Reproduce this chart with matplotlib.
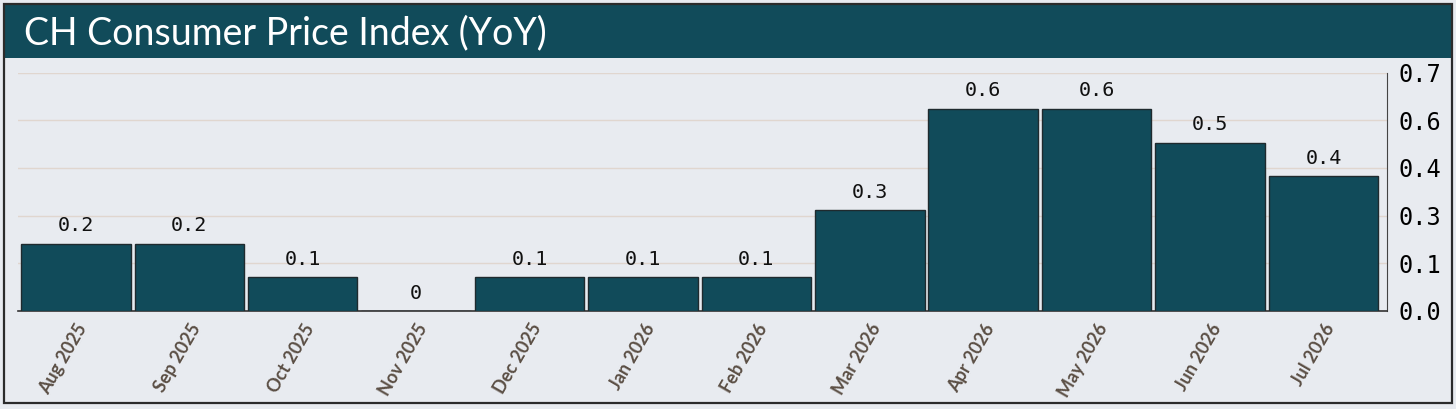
import matplotlib.pyplot as plt
import numpy as np
from matplotlib.patches import Rectangle

# data
months = ['Aug 2025', 'Sep 2025', 'Oct 2025', 'Nov 2025', 'Dec 2025', 'Jan 2026',
          'Feb 2026', 'Mar 2026', 'Apr 2026', 'May 2026', 'Jun 2026', 'Jul 2026']
cpi_yoy = [0.2, 0.2, 0.1, 0.0, 0.1, 0.1, 0.1, 0.3, 0.6, 0.6, 0.5, 0.4]
title = 'CH Consumer Price Index (YoY)'

bg = '#e8ebf0'
teal = '#114b5a'

fig = plt.figure(figsize=(14.56, 4.09), dpi=100)
fig.patch.set_facecolor(bg)

# header band + outer frame
fig.add_artist(Rectangle((0.003, 1 - 58 / 409), 0.994, 54 / 409, transform=fig.transFigure,
                         facecolor=teal, edgecolor='none', zorder=0))
fig.add_artist(Rectangle((0.003, 0.015), 0.994, 0.975, transform=fig.transFigure,
                         facecolor='none', edgecolor='#2b2b2b', linewidth=1.6, zorder=5))
fig.text(24 / 1456, 1 - 33 / 409, title, color='white', fontsize=27,
         family=['Lato', 'DejaVu Sans'], va='center', ha='left')

ax = fig.add_axes([18 / 1456, 1 - 311 / 409, (1387 - 18) / 1456, (311 - 72.5) / 409])
ax.set_facecolor(bg)

x = np.arange(len(months))
ax.bar(x, cpi_yoy, width=0.965, color=teal, edgecolor='#1f2a2e', linewidth=1, zorder=3)

for xi, v in zip(x, cpi_yoy):
    ax.text(xi, v + 0.025, f'{round(v, 1):g}', ha='center', va='bottom',
            family='DejaVu Sans Mono', fontsize=14.5, color='#111111', zorder=4)

ymax = max(cpi_yoy) * 1.18
ax.set_ylim(0, ymax)
ax.set_xlim(-0.51, len(months) - 1 + 0.56)
ticks = np.linspace(0, ymax, 6)
ax.set_yticks(ticks)
ax.set_yticklabels([f'{t:.1f}' for t in ticks], family='DejaVu Sans Mono', fontsize=17)
ax.yaxis.tick_right()
ax.tick_params(axis='y', length=0, pad=8)
ax.grid(axis='y', color='#e0d6cf', linewidth=1, zorder=0)

ax.set_xticks(x)
ax.set_xticklabels(months, rotation=60, ha='right', rotation_mode='anchor',
                   family=['Lato', 'DejaVu Sans'], fontweight='bold', fontsize=13, color='#5b4f45')
ax.tick_params(axis='x', length=0, pad=7)

for s in ['top', 'left']:
    ax.spines[s].set_visible(False)
ax.spines['right'].set_color('#444444')
ax.spines['bottom'].set_color('#333333')
ax.spines['bottom'].set_linewidth(1.2)

plt.savefig('out.png', dpi=100, facecolor=bg)
